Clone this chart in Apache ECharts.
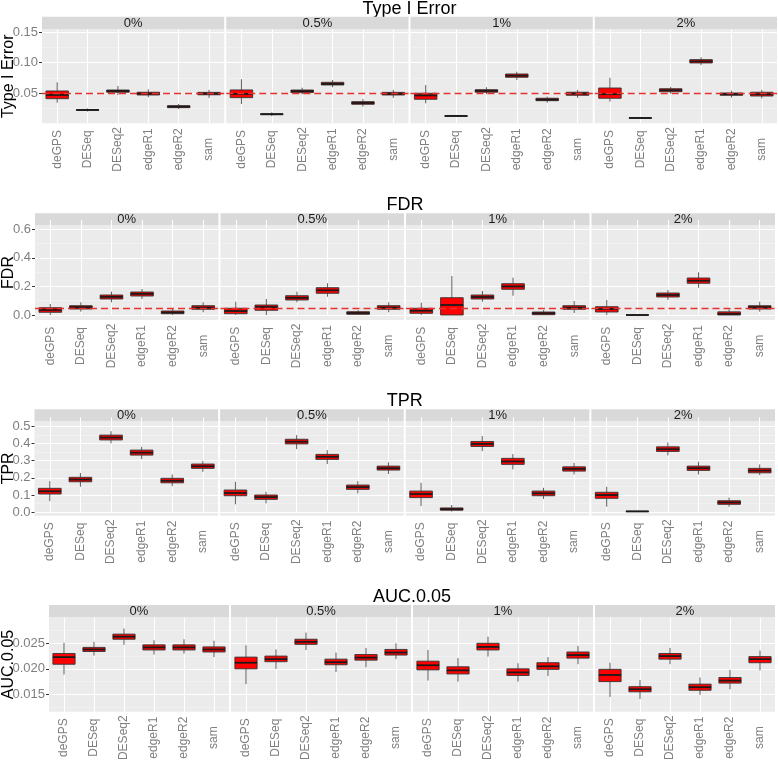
<!DOCTYPE html>
<html><head><meta charset="utf-8">
<script src="https://cdn.jsdelivr.net/npm/echarts@6/dist/echarts.min.js"></script>
<style>html,body{margin:0;padding:0;background:#fff}#c{width:778px;height:764px}</style>
</head><body><div id="c"></div>
<script>
// ---------- categories ----------
const methods = ['deGPS', 'DESeq', 'DESeq2', 'edgeR1', 'edgeR2', 'sam'];
const facets = ['0%', '0.5%', '1%', '2%'];
const metrics = ['Type I Error', 'FDR', 'TPR', 'AUC.0.05'];

// ---------- box values: [min, q1, median, q3, max] per method ----------
// Type I Error
const typeI_0 = [[0.034,0.0406,0.0467,0.0533,0.0676],[0.0195,0.0215,0.022,0.0225,0.0245],[0.0467,0.0512,0.0533,0.0549,0.0615],[0.043,0.0467,0.049,0.0512,0.056],[0.0236,0.0258,0.0275,0.029,0.032],[0.042,0.047,0.049,0.051,0.055]];
const typeI_05 = [[0.0319,0.0423,0.0484,0.055,0.0726],[0.012,0.0143,0.015,0.0158,0.018],[0.048,0.0505,0.053,0.0549,0.0587],[0.0594,0.0632,0.065,0.0676,0.0714],[0.0274,0.0314,0.0335,0.0357,0.040],[0.042,0.0467,0.0488,0.051,0.055]];
const typeI_1 = [[0.033,0.0396,0.046,0.0495,0.0632],[0.0105,0.0115,0.0121,0.0127,0.0138],[0.048,0.0512,0.0535,0.0554,0.0594],[0.0714,0.0759,0.0785,0.0813,0.085],[0.034,0.0373,0.039,0.0413,0.044],[0.042,0.0462,0.049,0.0512,0.055]];
const typeI_2 = [[0.0357,0.0413,0.048,0.0582,0.075],[0.0075,0.0083,0.0088,0.0093,0.010],[0.0488,0.052,0.0545,0.057,0.060],[0.096,0.0995,0.1022,0.105,0.1088],[0.0423,0.0462,0.048,0.050,0.0538],[0.041,0.045,0.048,0.0512,0.055]];
// FDR
const fdr_0 = [[0.0,0.019,0.035,0.051,0.077],[0.023,0.042,0.055,0.065,0.089],[0.089,0.112,0.127,0.14,0.163],[0.112,0.133,0.148,0.161,0.182],[0.0,0.009,0.018,0.028,0.042],[0.019,0.04,0.052,0.065,0.089]];
const fdr_05 = [[0.0,0.009,0.028,0.047,0.093],[0.0,0.033,0.056,0.07,0.112],[0.089,0.105,0.12,0.135,0.163],[0.128,0.152,0.173,0.191,0.222],[0.0,0.005,0.014,0.023,0.035],[0.019,0.04,0.052,0.065,0.089]];
const fdr_1 = [[0.0,0.012,0.03,0.047,0.086],[0.0,0.0,0.07,0.121,0.273],[0.093,0.112,0.126,0.14,0.168],[0.135,0.18,0.2,0.219,0.261],[0.0,0.002,0.012,0.021,0.035],[0.014,0.04,0.052,0.065,0.098]];
const fdr_2 = [[0.0,0.021,0.042,0.058,0.105],[0.0,0.0,0.0,0.0,0.0],[0.105,0.126,0.14,0.154,0.175],[0.191,0.222,0.24,0.259,0.299],[0.0,0.0,0.008,0.022,0.04],[0.023,0.042,0.055,0.065,0.093]];
// TPR
const tpr_0 = [[0.065,0.106,0.122,0.139,0.181],[0.148,0.177,0.19,0.203,0.228],[0.4,0.42,0.434,0.448,0.471],[0.309,0.332,0.346,0.361,0.38],[0.152,0.171,0.183,0.197,0.22],[0.235,0.255,0.267,0.28,0.297]];
const tpr_05 = [[0.046,0.096,0.112,0.129,0.177],[0.052,0.075,0.088,0.1,0.119],[0.367,0.397,0.41,0.424,0.448],[0.28,0.307,0.322,0.336,0.361],[0.11,0.133,0.146,0.158,0.181],[0.222,0.245,0.256,0.268,0.29]];
const tpr_1 = [[0.036,0.085,0.106,0.123,0.171],[0.004,0.012,0.018,0.025,0.042],[0.355,0.382,0.397,0.411,0.442],[0.249,0.278,0.295,0.313,0.338],[0.077,0.096,0.11,0.123,0.142],[0.22,0.239,0.252,0.264,0.287]];
const tpr_2 = [[0.032,0.081,0.1,0.116,0.148],[0.002,0.004,0.005,0.006,0.008],[0.33,0.353,0.366,0.38,0.405],[0.22,0.243,0.256,0.268,0.293],[0.032,0.046,0.057,0.067,0.085],[0.216,0.229,0.242,0.255,0.278]];
// AUC.0.05
const auc_0 = [[0.0189,0.0209,0.0223,0.023,0.0251],[0.0226,0.0234,0.0238,0.0242,0.0253],[0.0247,0.0258,0.0263,0.0268,0.0279],[0.0228,0.0237,0.0242,0.0247,0.0256],[0.023,0.0237,0.0242,0.0247,0.0258],[0.0223,0.0233,0.0238,0.0243,0.0255]];
const auc_05 = [[0.017,0.02,0.0212,0.0223,0.0246],[0.02,0.0214,0.0219,0.0225,0.0238],[0.0237,0.0248,0.0253,0.0258,0.0271],[0.0194,0.0208,0.0213,0.0219,0.0232],[0.0203,0.0217,0.0222,0.0228,0.0241],[0.0219,0.0227,0.0232,0.0238,0.025]];
const auc_1 = [[0.0177,0.0198,0.0207,0.0215,0.0237],[0.0175,0.019,0.0197,0.0204,0.0221],[0.0224,0.0237,0.0243,0.025,0.0263],[0.0175,0.0187,0.0193,0.02,0.0211],[0.0186,0.0199,0.0205,0.0212,0.0223],[0.0209,0.0221,0.0227,0.0233,0.0245]];
const auc_2 = [[0.0145,0.0175,0.0188,0.0199,0.0212],[0.0141,0.0155,0.016,0.0165,0.0178],[0.0209,0.0219,0.0225,0.023,0.0241],[0.0149,0.0158,0.0164,0.017,0.0183],[0.016,0.0172,0.0177,0.0183,0.0198],[0.0197,0.0212,0.0219,0.0224,0.0236]];

// ---------- tick labels ----------
const typeITicks = [0.05, 0.10, 0.15];
const fdrTicks = [0.0, 0.2, 0.4, 0.6];
const tprTicks = [0.0, 0.1, 0.2, 0.3, 0.4, 0.5];
const aucTicks = [0.015, 0.020, 0.025];
const refLevel = 0.05; // dashed reference line for Type I Error and FDR

// ---------- layout (positions/styles only) ----------
const rows = [
  { data: [typeI_0, typeI_05, typeI_1, typeI_2], ticks: typeITicks, dec: 2, min: 0, max: 0.155, step: 0.05,
    left: 42, right: 777, stripTop: 16.7, panelTop: 29.3, panelBottom: 123.3, titleY: 9, ref: true },
  { data: [fdr_0, fdr_05, fdr_1, fdr_2], ticks: fdrTicks, dec: 1, min: -0.035, max: 0.63, step: 0.2,
    left: 35, right: 775, stripTop: 213.3, panelTop: 225, panelBottom: 320, titleY: 205, ref: true },
  { data: [tpr_0, tpr_05, tpr_1, tpr_2], ticks: tprTicks, dec: 1, min: -0.02, max: 0.53, step: 0.1,
    left: 34.5, right: 775, stripTop: 409.3, panelTop: 421, panelBottom: 515.7, titleY: 401, ref: false },
  { data: [auc_0, auc_05, auc_1, auc_2], ticks: aucTicks, dec: 3, min: 0.0116, max: 0.0301, step: 0.005,
    left: 49, right: 775, stripTop: 605, panelTop: 617.3, panelBottom: 711.7, titleY: 596.7, ref: false }
];
const GAP = 2;
const FONT = '"Liberation Sans", Arial, Helvetica, sans-serif';
const BOX_FRAC = 0.74;

function renderBox(params, api) {
  const x = api.value(0);
  const pMin = api.coord([x, api.value(1)]);
  const pQ1 = api.coord([x, api.value(2)]);
  const pMed = api.coord([x, api.value(3)]);
  const pQ3 = api.coord([x, api.value(4)]);
  const pMax = api.coord([x, api.value(5)]);
  const bw = api.size([1, 0])[0] * BOX_FRAC;
  const cx = pMed[0];
  const wStyle = { stroke: '#4d4d4d', lineWidth: 0.9 };
  return {
    type: 'group',
    children: [
      { type: 'line', shape: { x1: cx, y1: pMax[1], x2: cx, y2: pQ3[1] }, style: wStyle },
      { type: 'line', shape: { x1: cx, y1: pQ1[1], x2: cx, y2: pMin[1] }, style: wStyle },
      { type: 'rect', shape: { x: cx - bw / 2, y: pQ3[1], width: bw, height: Math.max(pQ1[1] - pQ3[1], 0) },
        style: { fill: '#FF0000', stroke: '#333333', lineWidth: 0.9 } },
      { type: 'line', shape: { x1: cx - bw / 2, y1: pMed[1], x2: cx + bw / 2, y2: pMed[1] },
        style: { stroke: '#1a1a1a', lineWidth: 1.8 } }
    ]
  };
}

const grids = [], xAxes = [], yAxes = [], series = [], graphics = [];

rows.forEach((row, r) => {
  const pw = (row.right - row.left - 3 * GAP) / 4;
  const ph = row.panelBottom - row.panelTop;
  const stripH = row.panelTop - row.stripTop;
  graphics.push({ type: 'text', x: (row.left + row.right) / 2, y: row.titleY,
    style: { text: metrics[r], fill: '#000', font: '18px ' + FONT, align: 'center', verticalAlign: 'middle' } });
  graphics.push({ type: 'text', x: 8.5, y: (row.panelTop + row.panelBottom) / 2, rotation: Math.PI / 2,
    style: { text: metrics[r], fill: '#000', font: '16px ' + FONT, align: 'center', verticalAlign: 'middle' } });

  facets.forEach((fac, f) => {
    const g = r * 4 + f;
    const left = row.left + f * (pw + GAP);
    graphics.push({ type: 'rect', shape: { x: left, y: row.stripTop, width: pw, height: stripH },
      style: { fill: '#D9D9D9' } });
    graphics.push({ type: 'text', x: left + pw / 2, y: row.stripTop + stripH / 2 + 0.5,
      style: { text: fac, fill: '#1A1A1A', font: '13px ' + FONT, align: 'center', verticalAlign: 'middle' } });

    grids.push({ left: left, top: row.panelTop, width: pw, height: ph, show: true,
      backgroundColor: '#EBEBEB', borderWidth: 0, containLabel: false });

    xAxes.push({
      type: 'category', gridIndex: g, data: methods, boundaryGap: true,
      axisLine: { show: false },
      axisTick: { show: true, inside: true, alignWithLabel: true, interval: 0, length: ph,
        lineStyle: { color: '#FFFFFF', width: 1.1 } },
      axisLabel: { show: true, interval: 0, rotate: 90, margin: 26, align: 'center', verticalAlign: 'middle',
        fontSize: 12, color: '#7F7F7F', fontFamily: FONT },
      splitLine: { show: false }
    });

    const ticks = row.ticks, step = row.step, dec = row.dec;
    yAxes.push({
      type: 'value', gridIndex: g, min: row.min, max: row.max,
      minInterval: step, maxInterval: step, splitNumber: 4,
      axisLine: { show: false },
      axisTick: { show: f === 0, length: 3, customValues: ticks, lineStyle: { color: '#333333', width: 1 } },
      axisLabel: { show: f === 0, fontSize: 13, color: '#7F7F7F', margin: 4, fontFamily: FONT,
        customValues: ticks,
        formatter: v => ticks.some(t => Math.abs(t - v) < step * 1e-3) ? v.toFixed(dec) : '' },
      splitLine: { show: true, lineStyle: { color: '#FFFFFF', width: 1.1 } },
      minorTick: { show: false, splitNumber: 2 },
      minorSplitLine: { show: true, lineStyle: { color: '#F5F5F5', width: 0.6 } }
    });

    const s = {
      type: 'custom', xAxisIndex: g, yAxisIndex: g, renderItem: renderBox,
      encode: { x: 0, y: [1, 2, 3, 4, 5] },
      data: row.data[f].map((b, i) => [i].concat(b)),
      silent: true, z: 3
    };
    if (row.ref) {
      s.markLine = { silent: true, symbol: 'none', label: { show: false },
        lineStyle: { color: '#E8302C', type: [7, 4], width: 1.4 },
        data: [{ yAxis: refLevel }] };
    }
    series.push(s);
  });
});

const chart = echarts.init(document.getElementById('c'), null, { renderer: 'canvas' });
chart.setOption({
  animation: false,
  backgroundColor: '#FFFFFF',
  textStyle: { fontFamily: FONT },
  grid: grids, xAxis: xAxes, yAxis: yAxes, series: series,
  graphic: { elements: graphics }
});
</script>
</body></html>
